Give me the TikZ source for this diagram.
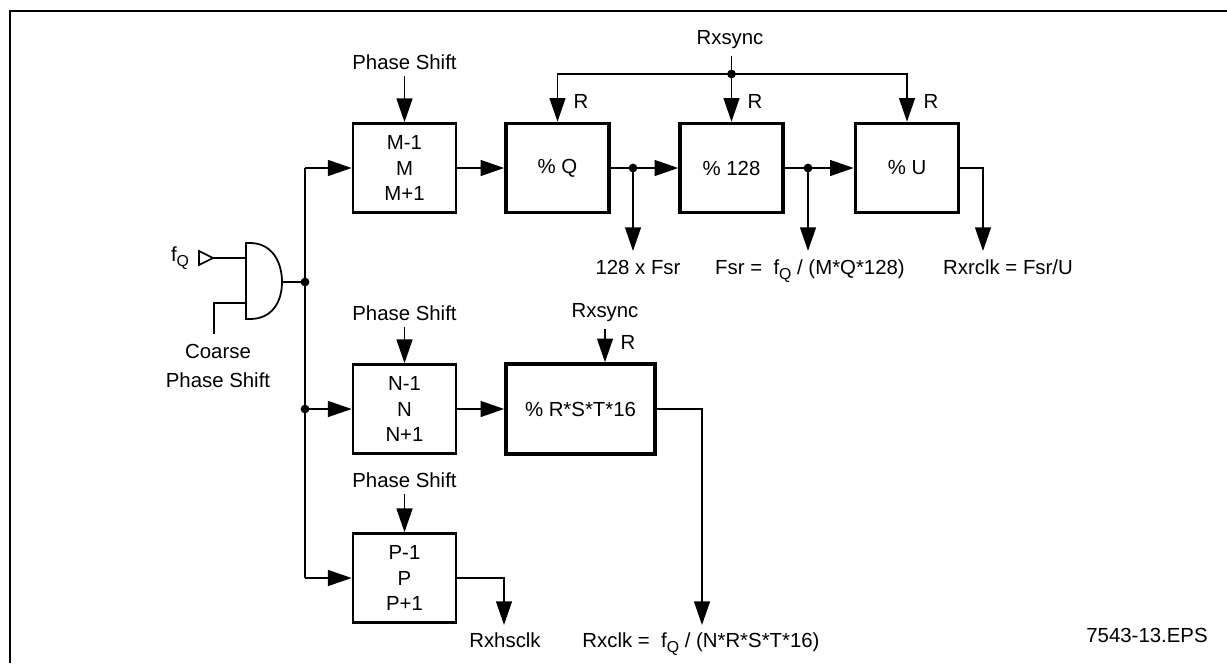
\documentclass[tikz,border=0pt]{standalone}
\usepackage{fontspec}
\setmainfont{Liberation Sans}
\usetikzlibrary{arrows.meta}
\newcommand\fQ{f\raisebox{-0.5ex}{\fontsize{9}{10}\selectfont Q}}
\begin{document}
\begin{tikzpicture}[x=0.02cm,y=-0.02cm,
  font=\fontsize{11.6}{14.7}\selectfont,
  ln/.style={line width=1.1pt},
  arr/.style={line width=1.1pt,-{Triangle[length=13.5pt,width=9pt]}},
  box/.style={draw,line width=1.5pt,minimum width=2.06cm,minimum height=1.78cm,inner sep=0pt,align=center},
  tbox/.style={box,line width=2pt},
  jdot/.style={circle,fill,inner sep=0pt,minimum size=5pt},
  lbl/.style={inner sep=3.5pt},
  blbl/.style={anchor=base,inner sep=0pt}]
\useasboundingbox (0,0) rectangle (1227,663);
% frame
\draw[line width=1.4pt] (10,663) |- (1227,11);

% ---- top row
\node[box] (M) at (404.5,168) {M-1\\[-0.2pt]M\\[-0.2pt]M+1};
\node[tbox] (Q) at (557.5,168) {\% Q};
\node[tbox] (B) at (731.5,168) {\% 128};
\node[tbox] (U) at (907,168) {\% U};

\node[lbl] (psM) at (404.5,62) {Phase Shift};
\draw[arr] (psM.south) -- (M.north);

\node[lbl] (rxs1) at (730,40) {Rxsync};
\coordinate (sj) at (731.5,74);
\draw[ln] (rxs1.south -| sj) -- (sj);
\draw[arr] (sj) -| (Q.north);
\draw[arr] (sj) -| (U.north);
\draw[arr] (sj) -- (B.north);
\node[jdot] at (sj) {};
\node at (581,101) {R};
\node at (755,101) {R};
\node at (931,101) {R};

\draw[arr] (M.east) -- (Q.west);
\coordinate (j1) at (633,168);
\coordinate (j2) at (808,168);
\draw[ln] (Q.east) -- (j1);
\draw[arr] (j1) -- (B.west);
\draw[ln] (B.east) -- (j2);
\draw[arr] (j2) -- (U.west);
\node[jdot] at (j1) {};
\node[jdot] at (j2) {};

\node[blbl] (o1) at (638,274) {128 x Fsr};
\node[blbl] (o2) at (810,274) {Fsr =\ \ \fQ\ / (M*Q*128)};
\node[blbl] (o3) at (1008,274) {Rxrclk = Fsr/U};
\coordinate (t1) at (633,251);
\coordinate (t2) at (808,251);
\coordinate (c3) at (983,168);
\coordinate (t3) at (983,251);
\draw[arr] (j1) -- (t1);
\draw[arr] (j2) -- (t2);
\draw[arr] (U.east) -- (c3) -- (t3);

% ---- gate
\coordinate (gi1) at (246,258);
\coordinate (gi2) at (246,303);
\coordinate (go) at (282,282);
\draw[line width=1pt] (246,243) -- (250,243) .. controls (272,243) and (282,262) .. (go)
  .. controls (282,302) and (272,319) .. (250,319) -- (246,319) -- cycle;
\draw[line width=1pt] (199,251) -- (213,258) -- (199,265) -- cycle;
\coordinate (ti) at (213,258);
\draw[ln] (ti) -- (gi1);
\node (fq) at (180,258) {\fQ};
\coordinate (cs) at (214,334);
\draw[ln] (gi2) -| (cs);
\node[align=center,font=\fontsize{11.6}{16}\selectfont] (coarse) at (218,366) {Coarse\\Phase Shift};

% ---- bus
\coordinate (bt) at (305,168);
\coordinate (jg) at (305,282);
\coordinate (jn) at (305,409);
\coordinate (bb) at (305,578);
\draw[ln] (bt) -- (bb);
\draw[ln] (go) -- (jg);
\node[jdot] at (jg) {};
\node[jdot] at (jn) {};

% ---- middle row
\node[box] (N) at (404.5,409) {N-1\\[-0.2pt]N\\[-0.2pt]N+1};
\node[tbox,minimum width=2.98cm,minimum height=1.8cm] (R) at (580.5,409) {\% R*S*T*16};
\node[lbl] (psN) at (404.5,313) {Phase Shift};
\draw[arr] (psN.south) -- (N.north);
\node[lbl] (rxs2) at (605,313) {Rxsync};
\draw[arr] (rxs2.south) -- (R.north -| rxs2.south);
\node at (628,342) {R};
\draw[arr] (bt) -- (M.west);
\draw[arr] (jn) -- (N.west);
\draw[arr] (N.east) -- (R.west);
\coordinate (c4) at (702,409);
\coordinate (t4) at (702,625);
\draw[arr] (R.east) -- (c4) -- (t4);
\node[blbl] (o4) at (701,647) {Rxclk =\ \ \fQ\ / (N*R*S*T*16)};

% ---- bottom row
\node[box] (P) at (404.5,578) {P-1\\[-0.2pt]P\\[-0.2pt]P+1};
\node[lbl] (psP) at (404.5,480) {Phase Shift};
\draw[arr] (psP.south) -- (P.north);
\draw[arr] (bb) -- (P.west);
\coordinate (c5) at (504,578);
\coordinate (t5) at (504,625);
\draw[arr] (P.east) -- (c5) -- (t5);
\node[blbl] (o5) at (505,647) {Rxhsclk};

\node (eps) at (1147,635) {7543-13.EPS};
\end{tikzpicture}
\end{document}
